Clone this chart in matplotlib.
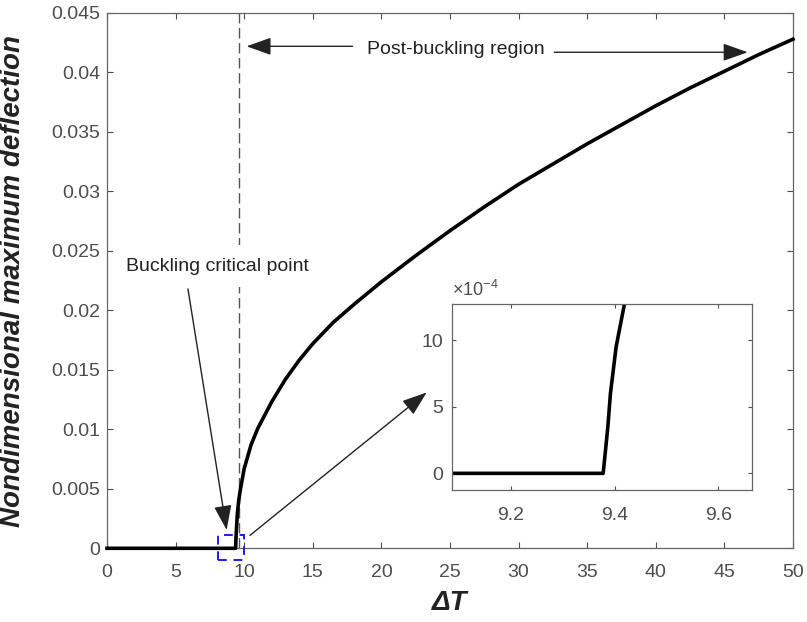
import matplotlib
matplotlib.use('Agg')
import matplotlib.pyplot as plt
from matplotlib.patches import Rectangle
from matplotlib.ticker import FuncFormatter

plt.rcParams['font.family'] = ['Liberation Sans', 'DejaVu Sans']
plt.rcParams['mathtext.fontset'] = 'custom'
plt.rcParams['mathtext.rm'] = 'Liberation Sans'

# temperature rise and nondimensional maximum deflection
delta_T = [0.0, 9.378, 9.387, 9.392, 9.403, 9.419, 9.5, 9.6, 9.7, 10.0, 10.5, 11.0,
           12.0, 13.0, 14.0, 15.0, 16.5, 18.0, 20.0, 22.5, 25.0, 27.5, 30.0, 32.5,
           35.0, 37.5, 40.0, 42.5, 45.0, 47.5, 50.0]
deflection = [0.0, 0.0, 0.00035, 0.0006, 0.00095, 0.00127, 0.0029, 0.0040, 0.0048,
              0.0067, 0.0087, 0.0101, 0.0123, 0.0142, 0.0158, 0.0172, 0.0190, 0.0205,
              0.0224, 0.0246, 0.0267, 0.0287, 0.0306, 0.0323, 0.0340, 0.0356, 0.0372,
              0.0387, 0.0401, 0.0415, 0.0428]

critical_T = 9.6          # dashed marker line
zoom_box = [8.1, -0.001, 1.9, 0.0021]   # x, y, width, height of the zoomed window

main_xticks = [0, 5, 10, 15, 20, 25, 30, 35, 40, 45, 50]
main_yticks = [0, 0.005, 0.01, 0.015, 0.02, 0.025, 0.03, 0.035, 0.04, 0.045]
inset_xticks = [9.2, 9.4, 9.6]
inset_yticks = [0, 5e-4, 10e-4]

grey = '#4d4d4d'

fig = plt.figure(figsize=(8.07, 6.22), dpi=100)
ax = fig.add_axes([0.1326, 0.1185, 0.850, 0.8606])

ax.plot(delta_T, deflection, color='black', lw=2.6, clip_on=False, zorder=4,
        solid_joinstyle='round')
ax.axvline(critical_T, color='#555555', lw=1.0, dashes=(7.5, 3.3), zorder=2)

ax.add_patch(Rectangle((zoom_box[0], zoom_box[1]), zoom_box[2], zoom_box[3],
                       fill=False, edgecolor='#1a1aff', lw=1.4, ls=(0, (4.5, 3.5)),
                       clip_on=False, zorder=5))

ax.set_xlim(0, 50)
ax.set_ylim(0, 0.045)
ax.set_xticks(main_xticks)
ax.set_yticks(main_yticks)
ax.yaxis.set_major_formatter(FuncFormatter(lambda v, p: '%g' % round(v, 4)))
ax.tick_params(axis='both', direction='in', top=True, right=True, length=4,
               width=0.8, colors=grey, labelsize=14)
ax.tick_params(axis='x', pad=11)
ax.tick_params(axis='y', pad=5)
for s in ax.spines.values():
    s.set_color('#666666')
    s.set_linewidth(0.9)

ax.set_xlabel('ΔT', fontsize=20, fontweight='bold', style='italic', color='#222222')
ax.xaxis.set_label_coords(0.5, -0.078)
ax.set_ylabel('Nondimensional maximum deflection', fontsize=20, fontweight='bold',
              style='italic', color='#222222')
ax.yaxis.set_label_coords(-0.118, 0.5)

# annotations
arrow_kw = dict(arrowstyle='-|>,head_length=0.9,head_width=0.32', color='#222222',
                lw=1.0, mutation_scale=17, shrinkA=0, shrinkB=0)
ax.text(25.4, 0.0419, 'Post-buckling region', fontsize=14, color='#222222',
        ha='center', va='center')
ax.annotate('', xy=(10.17, 0.0422), xytext=(17.9, 0.0422), arrowprops=arrow_kw)
ax.annotate('', xy=(46.7, 0.0417), xytext=(32.6, 0.0417), arrowprops=arrow_kw)

ax.text(1.38, 0.0237, 'Buckling critical point', fontsize=14, color='#222222',
        ha='left', va='center', zorder=6,
        bbox=dict(facecolor='white', edgecolor='none', pad=9))
ax.annotate('', xy=(8.72, 0.00154), xytext=(5.9, 0.0218), arrowprops=arrow_kw)
ax.annotate('', xy=(23.3, 0.0131), xytext=(10.42, 0.00109), arrowprops=arrow_kw)

# zoomed view around the critical point
ax_in = fig.add_axes([0.560, 0.2122, 0.3717, 0.299])
ax_in.plot(delta_T, deflection, color='black', lw=2.6, solid_joinstyle='round')
ax_in.set_xlim(9.086, 9.665)
ax_in.set_ylim(-1.25e-4, 12.7e-4)
ax_in.set_xticks(inset_xticks)
ax_in.set_yticks(inset_yticks)
ax_in.xaxis.set_major_formatter(FuncFormatter(lambda v, p: '%.1f' % v))
ax_in.yaxis.set_major_formatter(FuncFormatter(lambda v, p: '%g' % round(v * 1e4, 3)))
ax_in.tick_params(axis='both', direction='in', top=True, right=True, length=3,
                  width=0.8, colors=grey, labelsize=14)
ax_in.tick_params(axis='x', pad=12)
ax_in.tick_params(axis='y', pad=6)
for s in ax_in.spines.values():
    s.set_color('#666666')
    s.set_linewidth(0.9)
ax_in.text(0.0, 1.02, r'$\times\mathregular{10^{-4}}$', transform=ax_in.transAxes,
           fontsize=13, color=grey, ha='left', va='bottom')

fig.savefig('out.png', dpi=100)
